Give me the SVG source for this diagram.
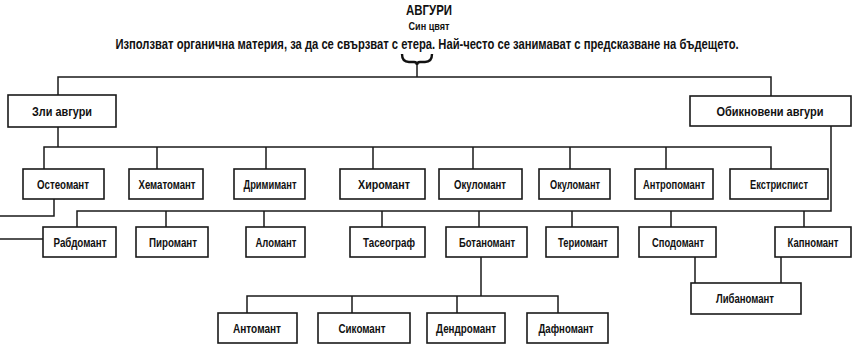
<svg xmlns="http://www.w3.org/2000/svg" width="856" height="347" viewBox="0 0 856 347">
<style>
.bx{fill:#fff;stroke:#1a1a1a;stroke-width:1.6}
.ln{fill:none;stroke:#1a1a1a;stroke-width:1.5}
text{font-family:"Liberation Sans",Arial,sans-serif;font-weight:bold;fill:#111;text-anchor:middle}
.n{font-size:13px}
.h{font-size:14px}
.s{font-size:11px}
</style>
<rect width="856" height="347" fill="#fff"/>
<g id="header">
<text class="h" transform="translate(429,15) scale(0.72,1)" textLength="63.9" lengthAdjust="spacingAndGlyphs">АВГУРИ</text>
<text class="s" transform="translate(429,30) scale(0.72,1)" textLength="56.9" lengthAdjust="spacingAndGlyphs">Син цвят</text>
<text class="h" transform="translate(427,49) scale(0.75,1)" textLength="831" lengthAdjust="spacingAndGlyphs">Използват органична материя, за да се свързват с етера. Най-често се занимават с предсказване на бъдещето.</text>
<path d="M402,54 q0,8 7,8 h5 q3,0 3,3 q0,-3 3,-3 h5 q7,0 7,-8" fill="none" stroke="#111" stroke-width="2.4"/>
</g>
<g id="connectors" class="ln">
<path d="M417,64 V77"/>
<path d="M58,95 V77 H771 V96"/>
<path d="M58,127 V147"/>
<path d="M44,169 V147 H771 V169"/>
<path d="M157,147 V169 M266,147 V169 M373,147 V169 M473,147 V169 M570,147 V169 M666,147 V169"/>
<path d="M831,126 V211 H77 V227"/>
<path d="M166,211 V227 M264,211 V227 M382,211 V227 M479,211 V227 M572,211 V227 M671,211 V227 M804,211 V227"/>
<path d="M54,199 V216 H0"/>
<path d="M0,239 H43"/>
<path d="M481,257 V296"/>
<path d="M247,313 V296 H558 V313 M352,296 V313 M457,296 V313"/>
<path d="M695,257 V283 M781,257 V283"/>
</g>
<g id="zli"><rect class="bx" x="8" y="95" width="108" height="32"/><text class="n" transform="translate(62,116) scale(0.72,1)" textLength="83.3" lengthAdjust="spacingAndGlyphs">Зли авгури</text></g>
<g id="obiknoveni"><rect class="bx" x="690" y="96" width="161" height="30"/><text class="n" transform="translate(770,116) scale(0.72,1)" textLength="148.6" lengthAdjust="spacingAndGlyphs">Обикновени авгури</text></g>
<g id="osteomant"><rect class="bx" x="23" y="169" width="81" height="30"/><text class="n" transform="translate(63,189) scale(0.72,1)" textLength="72.2" lengthAdjust="spacingAndGlyphs">Остеомант</text></g>
<g id="hematomant"><rect class="bx" x="129" y="169" width="74" height="30"/><text class="n" transform="translate(167,189) scale(0.72,1)" textLength="79.2" lengthAdjust="spacingAndGlyphs">Хематомант</text></g>
<g id="drimimant"><rect class="bx" x="234" y="169" width="71" height="30"/><text class="n" transform="translate(270,189) scale(0.72,1)" textLength="73.6" lengthAdjust="spacingAndGlyphs">Дримимант</text></g>
<g id="hiromant"><rect class="bx" x="340" y="169" width="85" height="30"/><text class="n" transform="translate(384,189) scale(0.72,1)" textLength="72.2" lengthAdjust="spacingAndGlyphs">Хиромант</text></g>
<g id="okulomant1"><rect class="bx" x="439" y="169" width="83" height="30"/><text class="n" transform="translate(480,189) scale(0.72,1)" textLength="72.2" lengthAdjust="spacingAndGlyphs">Окуломант</text></g>
<g id="okulomant2"><rect class="bx" x="539" y="169" width="71" height="30"/><text class="n" transform="translate(575,189) scale(0.72,1)" textLength="69.4" lengthAdjust="spacingAndGlyphs">Окуломант</text></g>
<g id="antropomant"><rect class="bx" x="635" y="169" width="78" height="30"/><text class="n" transform="translate(674,189) scale(0.72,1)" textLength="86.1" lengthAdjust="spacingAndGlyphs">Антропомант</text></g>
<g id="ekstrispist"><rect class="bx" x="730" y="169" width="98" height="30"/><text class="n" transform="translate(779,189) scale(0.72,1)" textLength="80.6" lengthAdjust="spacingAndGlyphs">Екстриспист</text></g>
<g id="rabdomant"><rect class="bx" x="43" y="227" width="73" height="30"/><text class="n" transform="translate(80,247) scale(0.72,1)" textLength="73.6" lengthAdjust="spacingAndGlyphs">Рабдомант</text></g>
<g id="piromant"><rect class="bx" x="136" y="227" width="72" height="30"/><text class="n" transform="translate(173,247) scale(0.72,1)" textLength="66.7" lengthAdjust="spacingAndGlyphs">Пиромант</text></g>
<g id="alomant"><rect class="bx" x="246" y="227" width="59" height="30"/><text class="n" transform="translate(276,247) scale(0.72,1)" textLength="56.9" lengthAdjust="spacingAndGlyphs">Аломант</text></g>
<g id="taseograf"><rect class="bx" x="350" y="227" width="75" height="30"/><text class="n" transform="translate(389,247) scale(0.72,1)" textLength="72.2" lengthAdjust="spacingAndGlyphs">Тасеограф</text></g>
<g id="botanomant"><rect class="bx" x="446" y="227" width="81" height="30"/><text class="n" transform="translate(487,247) scale(0.72,1)" textLength="77.8" lengthAdjust="spacingAndGlyphs">Ботаномант</text></g>
<g id="teriomant"><rect class="bx" x="546" y="227" width="72" height="30"/><text class="n" transform="translate(583,247) scale(0.72,1)" textLength="69.4" lengthAdjust="spacingAndGlyphs">Териомант</text></g>
<g id="spodomant"><rect class="bx" x="639" y="227" width="77" height="30"/><text class="n" transform="translate(678,247) scale(0.72,1)" textLength="72.2" lengthAdjust="spacingAndGlyphs">Сподомант</text></g>
<g id="kapnomant"><rect class="bx" x="775" y="227" width="76" height="30"/><text class="n" transform="translate(813,247) scale(0.72,1)" textLength="70.8" lengthAdjust="spacingAndGlyphs">Капномант</text></g>
<g id="libanomant"><rect class="bx" x="691" y="283" width="110" height="31"/><text class="n" transform="translate(745,303) scale(0.72,1)" textLength="80.6" lengthAdjust="spacingAndGlyphs">Либаномант</text></g>
<g id="antomant"><rect class="bx" x="218" y="313" width="79" height="30"/><text class="n" transform="translate(257,333) scale(0.72,1)" textLength="66.7" lengthAdjust="spacingAndGlyphs">Антомант</text></g>
<g id="sikomant"><rect class="bx" x="318" y="313" width="92" height="30"/><text class="n" transform="translate(362,333) scale(0.72,1)" textLength="65.3" lengthAdjust="spacingAndGlyphs">Сикомант</text></g>
<g id="dendromant"><rect class="bx" x="427" y="313" width="78" height="30"/><text class="n" transform="translate(466,333) scale(0.72,1)" textLength="83.3" lengthAdjust="spacingAndGlyphs">Дендромант</text></g>
<g id="dafnomant"><rect class="bx" x="527" y="313" width="81" height="30"/><text class="n" transform="translate(566,333) scale(0.72,1)" textLength="76.4" lengthAdjust="spacingAndGlyphs">Дафномант</text></g>
</svg>
